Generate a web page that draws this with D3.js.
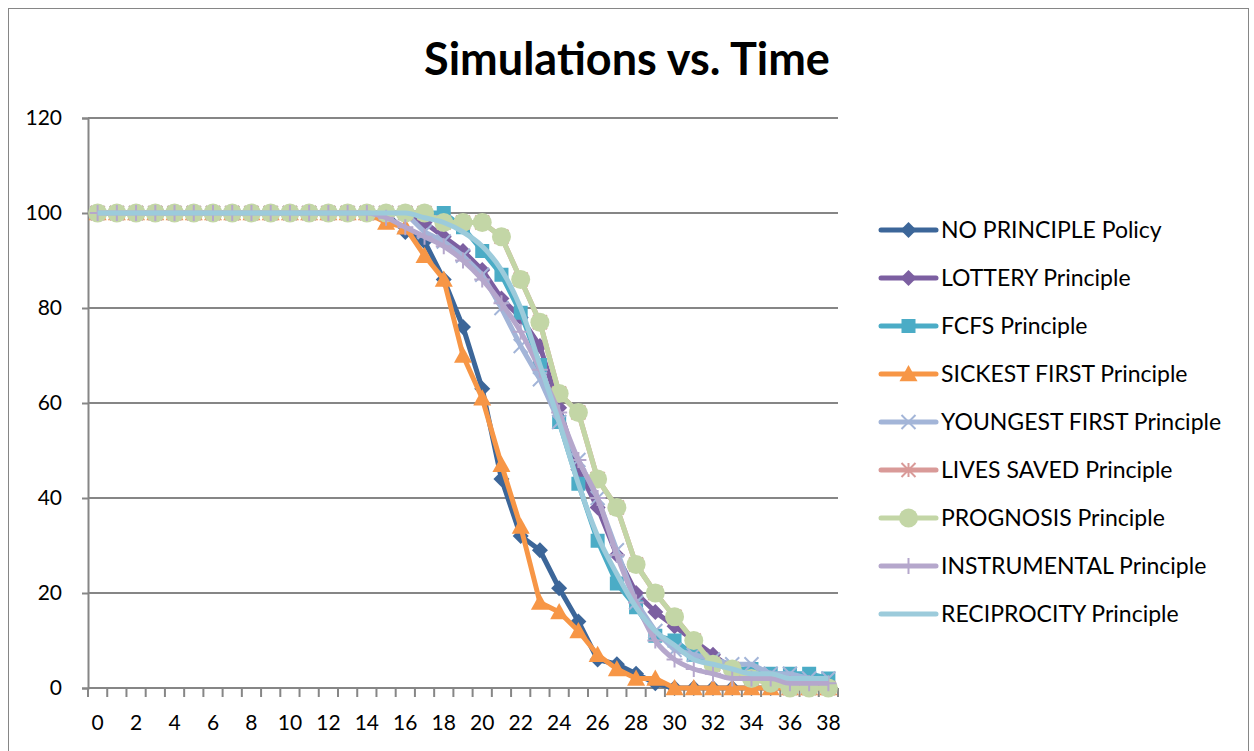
<!DOCTYPE html>
<html>
<head>
<meta charset="utf-8">
<script src="https://cdn.jsdelivr.net/npm/d3@7"></script>
<style>
  body { margin: 0; background: #fff; }
  text { font-family: Lato, "Open Sans", sans-serif; fill: #000; }
</style>
</head>
<body>
<div id="chart"></div>
<script>
// categories (time steps) and y tick values
var times = d3.range(0, 39);
var yTicks = [0, 20, 40, 60, 80, 100, 120];

function fill100(n) { return d3.range(n).map(function() { return 100; }); }

var noPrinciple = fill100(16).concat([96, 94, 86, 76, 63, 44, 32, 29, 21, 14, 6, 5, 3, 1, 0, 0, 0, 0, 0, 0, 0, 0, 0]);
var lottery = fill100(17).concat([98, 95, 92, 88, 82, 78, 72, 59, 46, 38, 28, 20, 16, 13, 10, 7, 4, 3, 2, 2, 1, 1]);
var fcfs = fill100(19).concat([97, 92, 87, 79, 68, 56, 43, 31, 22, 17, 11, 10, 7, 5, 4, 4, 3, 3, 3, 2]);
var sickestFirst = fill100(15).concat([98, 97, 91, 86, 70, 61, 47, 34, 18, 16, 12, 7, 4, 2, 2, 0, 0, 0, 0, 0, 0, 0, 0, 0]);
var youngestFirst = fill100(17).concat([96, 94, 91, 87, 80, 72, 65, 56, 48, 40, 29, 18, 12, 8, 7, 6, 5, 5, 3, 3, 2, 2]);
var livesSaved = fill100(18).concat([98, 98, 98, 95, 86, 77, 62, 58, 44, 38, 26, 20, 15, 10, 5, 4, 2, 1, 0, 0, 0]);
var prognosis = fill100(18).concat([98, 98, 98, 95, 86, 77, 62, 58, 44, 38, 26, 20, 15, 10, 5, 4, 2, 1, 0, 0, 0]);
var instrumental = fill100(15).concat([99, 97, 95, 93, 90, 86, 81, 75, 67, 58, 48, 40, 28, 18, 10, 6, 4, 3, 2, 2, 2, 1, 1, 1]);
var reciprocity = fill100(17).concat([99, 98, 96, 93, 88, 80, 68, 56, 43, 32, 24, 17, 12, 9, 6, 5, 4, 3, 3, 2, 2, 2]);

var series = [
  { name: "NO PRINCIPLE Policy", values: noPrinciple, color: "#3c6699", marker: "diamond" },
  { name: "LOTTERY Principle", values: lottery, color: "#7c5fa1", marker: "diamond" },
  { name: "FCFS Principle", values: fcfs, color: "#4bacc6", marker: "square" },
  { name: "SICKEST FIRST Principle", values: sickestFirst, color: "#f79646", marker: "triangle" },
  { name: "YOUNGEST FIRST Principle", values: youngestFirst, color: "#a3b5d8", marker: "x" },
  { name: "LIVES SAVED Principle", values: livesSaved, color: "#d99a98", marker: "star" },
  { name: "PROGNOSIS Principle", values: prognosis, color: "#c3d6a6", marker: "circle" },
  { name: "INSTRUMENTAL Principle", values: instrumental, color: "#b5a7cc", marker: "plus", smooth: true },
  { name: "RECIPROCITY Principle", values: reciprocity, color: "#9ccbdb", marker: "none", smooth: true }
];

var width = 1254, height = 751;

var svg = d3.select("#chart")
  .append("svg")
  .attr("width", width)
  .attr("height", height);

// chart frame
svg.append("rect")
  .attr("x", 8.5).attr("y", 8.5)
  .attr("width", 1240).attr("height", 760)
  .attr("fill", "none")
  .attr("stroke", "#868686");

var x = d3.scaleBand().domain(times).range([88, 838]);
var y = d3.scaleLinear().domain([0, 120]).range([688, 118]);
var cx = function(i) { return x(i) + x.bandwidth() / 2; };

svg.append("text")
  .attr("x", 627).attr("y", 75)
  .attr("text-anchor", "middle")
  .attr("font-size", 45).attr("font-weight", "bold")
  .text("Simulations vs. Time");

// gridlines
svg.append("g")
  .selectAll("line")
  .data(yTicks.filter(function(d) { return d > 0; }))
  .enter().append("line")
  .attr("x1", 88).attr("x2", 838)
  .attr("y1", function(d) { return y(d); })
  .attr("y2", function(d) { return y(d); })
  .attr("stroke", "#868686").attr("stroke-width", 2);

// y axis
var yAxis = svg.append("g")
  .attr("transform", "translate(88,0)")
  .call(d3.axisLeft(y).tickValues(yTicks).tickSize(6).tickFormat(""));
yAxis.select(".domain").attr("stroke", "#868686").attr("stroke-width", 2);
yAxis.selectAll(".tick line").attr("stroke", "#868686").attr("stroke-width", 2);

svg.append("g")
  .selectAll("text")
  .data(yTicks)
  .enter().append("text")
  .attr("x", 62)
  .attr("y", function(d) { return y(d) + 7; })
  .attr("text-anchor", "end")
  .attr("font-size", 21)
  .text(function(d) { return d; });

// x axis: ticks between categories
var xAxis = svg.append("g")
  .attr("transform", "translate(0,688)")
  .call(d3.axisBottom(x).tickSize(0).tickPadding(27)
    .tickFormat(function(d) { return d % 2 === 0 ? d : ""; }));
xAxis.select(".domain").remove();
xAxis.selectAll("text").attr("font-size", 21).attr("font-family", "Lato");
xAxis.append("line")
  .attr("x1", 88).attr("x2", 838)
  .attr("stroke", "#868686").attr("stroke-width", 2);
xAxis.selectAll(".bound")
  .data(d3.range(0, 40))
  .enter().append("line")
  .attr("class", "bound")
  .attr("x1", function(i) { return 88 + i * x.step(); })
  .attr("x2", function(i) { return 88 + i * x.step(); })
  .attr("y1", 0).attr("y2", 9)
  .attr("stroke", "#868686").attr("stroke-width", 2);

function drawMarker(g, type, color, px, py, scale) {
  var s = scale || 1;
  if (type === "diamond") {
    var r = 8 * s;
    g.append("path").attr("d", "M" + px + "," + (py - r) + "L" + (px + r) + "," + py + "L" + px + "," + (py + r) + "L" + (px - r) + "," + py + "Z")
      .attr("fill", color);
  } else if (type === "square") {
    var h = 7 * s;
    g.append("rect").attr("x", px - h).attr("y", py - h).attr("width", 2 * h).attr("height", 2 * h)
      .attr("fill", color);
  } else if (type === "triangle") {
    var t = 9 * s;
    g.append("path").attr("d", "M" + px + "," + (py - t) + "L" + (px + t) + "," + (py + t * 0.8) + "L" + (px - t) + "," + (py + t * 0.8) + "Z")
      .attr("fill", color);
  } else if (type === "circle") {
    g.append("circle").attr("cx", px).attr("cy", py).attr("r", 9.5 * s).attr("fill", color);
  } else if (type === "x" || type === "star") {
    var k = 7 * s;
    g.append("path").attr("d", "M" + (px - k) + "," + (py - k) + "L" + (px + k) + "," + (py + k) + "M" + (px - k) + "," + (py + k) + "L" + (px + k) + "," + (py - k) +
        (type === "star" ? "M" + px + "," + (py - k) + "L" + px + "," + (py + k) : ""))
      .attr("stroke", color).attr("stroke-width", 2).attr("fill", "none");
  } else if (type === "plus") {
    var p = 8 * s;
    g.append("path").attr("d", "M" + (px - p) + "," + py + "L" + (px + p) + "," + py + "M" + px + "," + (py - p) + "L" + px + "," + (py + p))
      .attr("stroke", color).attr("stroke-width", 2).attr("fill", "none");
  }
}

series.forEach(function(s) {
  var g = svg.append("g");
  var line = d3.line()
    .x(function(d, i) { return cx(i); })
    .y(function(d) { return y(d); })
    .curve(s.smooth ? d3.curveMonotoneX : d3.curveLinear);
  g.append("path")
    .datum(s.values)
    .attr("d", line)
    .attr("fill", "none")
    .attr("stroke", s.color)
    .attr("stroke-width", 5)
    .attr("stroke-linejoin", "round");
  s.values.forEach(function(v, i) {
    drawMarker(g, s.marker, s.color, cx(i), y(v));
  });
});

// legend
var legend = svg.append("g");
series.forEach(function(s, i) {
  var ly = 230 + i * 48;
  var lg = legend.append("g");
  lg.append("line")
    .attr("x1", 881).attr("x2", 936)
    .attr("y1", ly).attr("y2", ly)
    .attr("stroke", s.color).attr("stroke-width", 5).attr("stroke-linecap", "round");
  drawMarker(lg, s.marker, s.color, 908.5, ly);
  lg.append("text")
    .attr("x", 941).attr("y", ly + 8)
    .attr("font-size", 23)
    .text(s.name);
});
</script>
</body>
</html>
